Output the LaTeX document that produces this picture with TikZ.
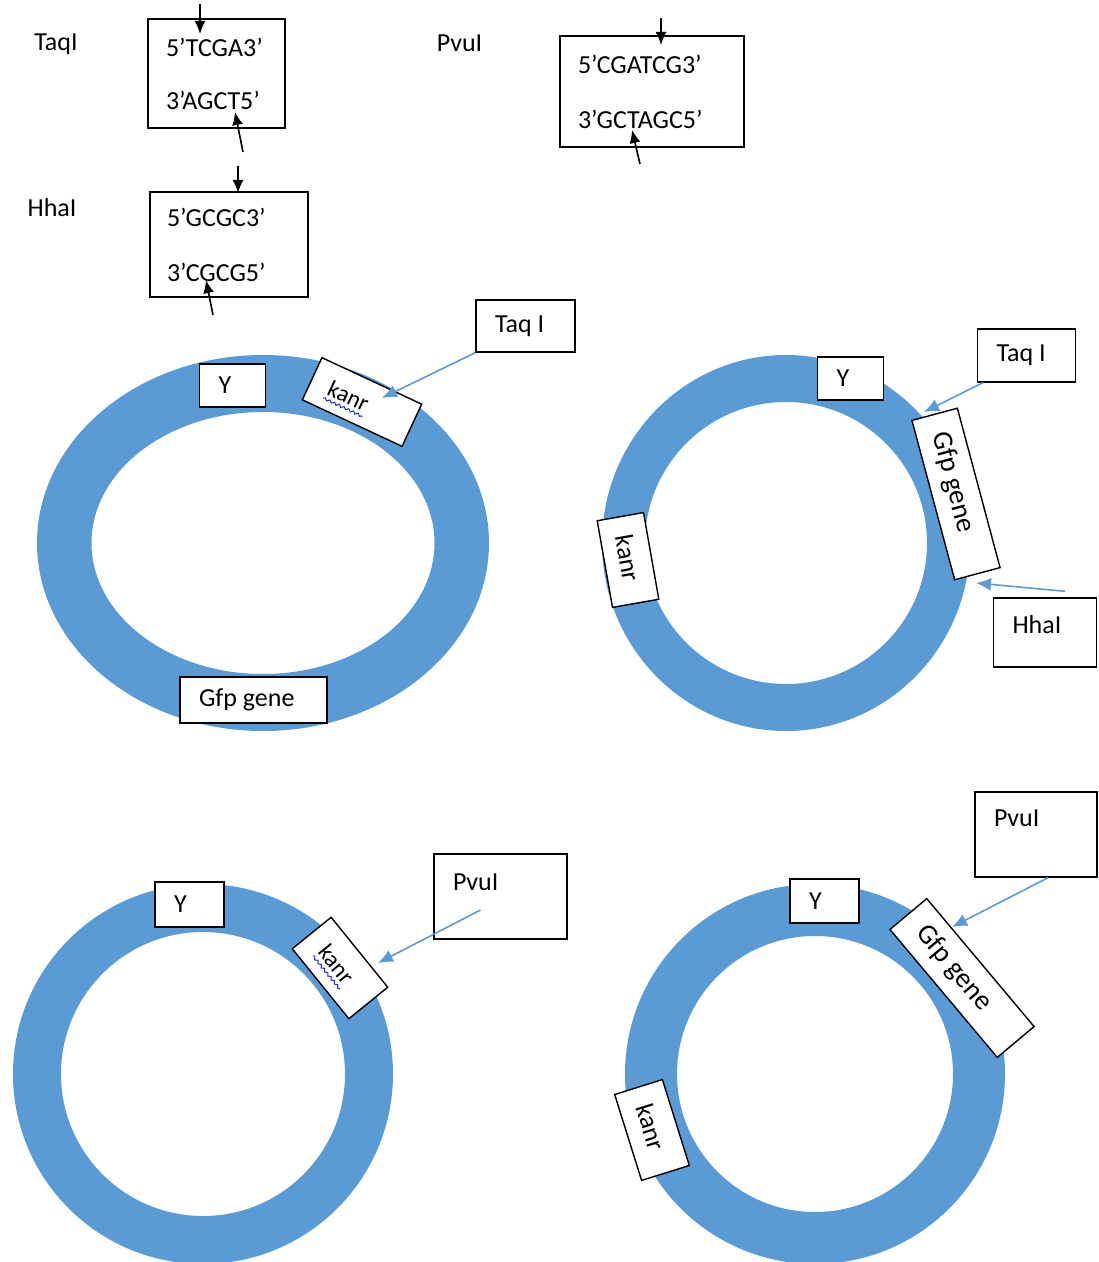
\documentclass[tikz,border=0pt]{standalone}
\usepackage{fontspec}
\setmainfont{Carlito}
\usetikzlibrary{arrows.meta,calc,decorations.pathmorphing}
\definecolor{ringblue}{RGB}{91,155,213}
\definecolor{squigblue}{RGB}{40,40,225}
\tikzset{
  box/.style={draw, fill=white, line width=0.7pt, align=flush left, inner xsep=9.5pt, inner ysep=0pt},
  seqbox/.style={box, inner xsep=9pt},
  lbl/.style={inner sep=0pt},
  small/.style={font=\fontsize{11.8}{14}\selectfont},
  big/.style={font=\fontsize{14}{16.8}\selectfont},
  cut/.style={->, line width=0.8pt, >={Latex[length=6.5pt,width=5.5pt]}},
  site/.style={->, draw=ringblue, line width=0.8pt, >={Latex[length=7.5pt,width=6.5pt]}},
  squig/.style={draw=squigblue, line width=0.5pt, decorate, decoration={snake, amplitude=0.6pt, segment length=2.6pt}}
}
\newcommand{\kanrsquig}[3]{%
  \draw[squig] ($($(#1.base west)!#2!(#1.base east)$)!.3!($(#1.south west)!#2!(#1.south east)$)$)
    -- ($($(#1.base west)!#3!(#1.base east)$)!.3!($(#1.south west)!#3!(#1.south east)$)$);}
\begin{document}
\begin{tikzpicture}[x=0.5pt, y=-0.5pt, font=\fontsize{13}{15.6}\selectfont]
\useasboundingbox (0,0) rectangle (1098,1262);
\node[lbl] (taqname) at (56,44) {TaqI};
\node[seqbox, text width=50.5pt, minimum height=54.5pt] (taqseq) at (216.5,73.5) {5’TCGA3’\\[10.9pt]3’AGCT5’};
\node[lbl] (hhaname) at (52,208) {HhaI};
\node[seqbox, inner xsep=8.5pt, text width=62pt, minimum height=52.5pt] (hhaseq) at (229,244.5) {5’GCGC3’\\[11.9pt]3’CGCG5’};
\node[lbl] (pvuname) at (459.5,43) {PvuI};
\node[seqbox, text width=74pt, minimum height=55.5pt] (pvuseq) at (652,91.5) {5’CGATCG3’\\[11.9pt]3’GCTAGC5’};
\coordinate (taqa) at (200,4);   \coordinate (taqb) at (200,34);
\coordinate (taqc) at (243,152); \coordinate (taqd) at (235,112);
\coordinate (hhaa) at (238,166); \coordinate (hhab) at (238,193);
\coordinate (hhac) at (213,315); \coordinate (hhad) at (206,280);
\coordinate (pvua) at (661,18);  \coordinate (pvub) at (661,45);
\coordinate (pvuc) at (640,164); \coordinate (pvud) at (632,130);
\draw[cut] (taqa) -- (taqb);
\draw[cut] (taqc) -- (taqd);
\draw[cut] (hhaa) -- (hhab);
\draw[cut] (hhac) -- (hhad);
\draw[cut] (pvua) -- (pvub);
\draw[cut] (pvuc) -- (pvud);

\begin{scope}
\fill[ringblue, even odd rule] (263,543) ellipse[x radius=113pt, y radius=94pt] (263,543) ellipse[x radius=85.75pt, y radius=65.5pt];
\node[box, text width=14pt, minimum height=21.5pt] (y1) at (232.5,385.5) {Y};
\node[box, small, text width=36pt, minimum height=23.25pt, rotate=-25] (kan1) at (362,402) {kanr};
\node[box, text width=54.5pt, minimum height=23pt] (gfp1) at (253.5,700) {Gfp gene};
\node[box, text width=30.5pt, minimum height=26pt] (taq1) at (525.5,326) {Taq I};
\coordinate (taq1cut) at (382,398);
\draw[site] (taq1.south west) -- (taq1cut);
\kanrsquig{kan1}{.17}{.56}
\end{scope}

\begin{scope}
\fill[ringblue, even odd rule] (786,543) ellipse[x radius=92pt, y radius=94pt] (786,543) circle[radius=70.5pt];
\node[box, text width=14pt, minimum height=21.5pt] (y2) at (850.5,378.5) {Y};
\node[box, big, text width=63.5pt, minimum height=23.5pt, rotate=-75] (gfp2) at (956,494) {Gfp gene};
\node[box, text width=25pt, minimum height=23.5pt, rotate=-80] (kan2) at (628,560) {kanr};
\node[box, text width=30pt, minimum height=26.5pt] (taq2) at (1026.5,355.5) {Taq I};
\node[box, text width=32.5pt, text height=17.7pt, text depth=16.8pt] (hha2) at (1045,632.5) {HhaI};
\coordinate (taq2cut) at (924,412);
\coordinate (hha2cut) at (976,583);
\draw[site] ([xshift=3pt]taq2.south west) -- (taq2cut);
\draw[site] ([xshift=10pt,yshift=3pt]hha2.north) -- (hha2cut);
\end{scope}

\begin{scope}
\fill[ringblue, even odd rule] (203,1074) circle[radius=95pt] (203,1074) circle[radius=71pt];
\node[box, text width=15.5pt, minimum height=22.5pt] (y3) at (189.5,904.5) {Y};
\node[box, small, text width=26pt, minimum height=25pt, rotate=-51] (kan3) at (340,968) {kanr};
\node[box, text width=47.5pt, text height=18.2pt, text depth=24.3pt] (pvu3) at (500.5,896.5) {PvuI};
\coordinate (pvu3cut) at (378,963);
\draw[site] ([xshift=-10pt,yshift=-6.75pt]pvu3.center) -- (pvu3cut);
\kanrsquig{kan3}{.21}{.68}
\end{scope}

\begin{scope}
\fill[ringblue, even odd rule] (815,1074) circle[radius=95pt] (815,1074) circle[radius=69pt];
\node[box, text width=15.5pt, minimum height=22pt] (y4) at (824.5,901) {Y};
\node[box, big, text width=64.5pt, minimum height=24pt, rotate=-50] (gfp4) at (962,978) {Gfp gene};
\node[box, text width=26pt, minimum height=25pt, rotate=-72.6] (kan4) at (652,1130) {kanr};
\node[box, text width=42pt, text height=17.2pt, text depth=25.3pt] (pvu4) at (1036,834.5) {PvuI};
\coordinate (pvu4cut) at (952,927);
\draw[site] ([xshift=6pt]pvu4.south) -- (pvu4cut);
\end{scope}
\end{tikzpicture}
\end{document}
